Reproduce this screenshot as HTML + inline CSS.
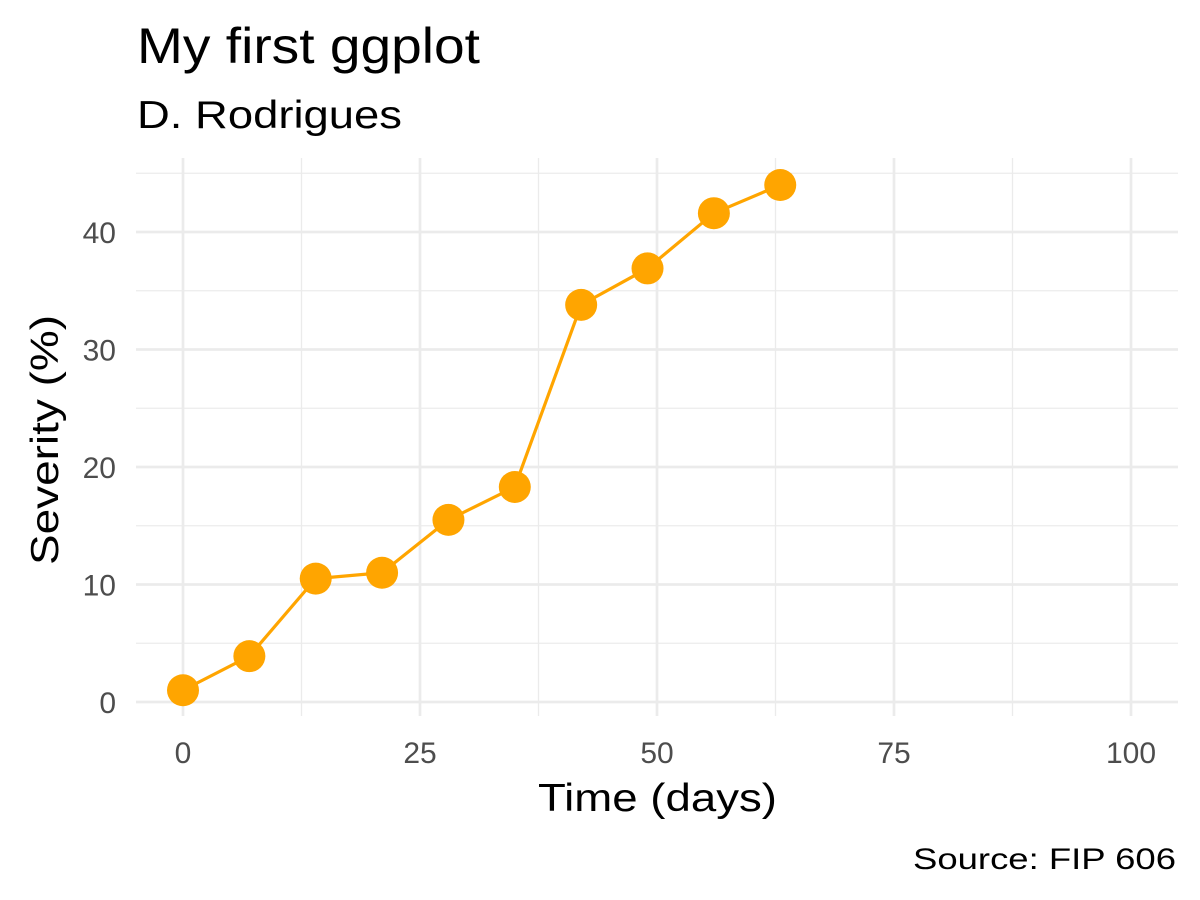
<!DOCTYPE html>
<html><head><meta charset="utf-8"><style>
html,body{margin:0;padding:0;background:#fff;}
svg{display:block;font-family:"Liberation Sans",Arial,sans-serif;}
</style></head><body>
<svg id="chart" width="1200" height="900" viewBox="0 0 1200 900">
<text x="137" y="63" font-size="50" textLength="343" lengthAdjust="spacingAndGlyphs" fill="#000">My first ggplot</text>
<text x="137" y="128" font-size="39" textLength="265" lengthAdjust="spacingAndGlyphs" fill="#000">D. Rodrigues</text>
<g id="grid"></g>
<g id="series"></g>
<g id="axes"></g>
<text x="538" y="811" font-size="39" textLength="239" lengthAdjust="spacingAndGlyphs" fill="#000">Time (days)</text>
<text transform="translate(58,565) rotate(-90)" font-size="39" textLength="250" lengthAdjust="spacingAndGlyphs" fill="#000">Severity (%)</text>
<text x="913" y="869" font-size="30" textLength="263" lengthAdjust="spacingAndGlyphs" fill="#000">Source: FIP 606</text>
</svg>
<script>
const days = [0,7,14,21,28,35,42,49,56,63];
const severity = [1.0,3.9,10.5,11.0,15.5,18.3,33.8,36.9,41.6,44.0];
const xTicks = [0,25,50,75,100];
const yTicks = [0,10,20,30,40];
const xMinor = [12.5,37.5,62.5,87.5];
const yMinor = [5,15,25,35,45];

const NS="http://www.w3.org/2000/svg";
const panel={left:136,right:1178,top:158,bottom:716};
function xs(v){return 183+(v-0)*(1131-183)/100;}
function ys(v){return 702-v*(702-232)/40;}
function mk(tag,attrs,parent){const e=document.createElementNS(NS,tag);for(const k in attrs)e.setAttribute(k,attrs[k]);parent.appendChild(e);return e;}
const grid=document.getElementById('grid'),series=document.getElementById('series'),axes=document.getElementById('axes');

xMinor.forEach(v=>{const l=mk('line',{x1:xs(v),x2:xs(v),y1:panel.top,y2:panel.bottom,stroke:'#ebebeb','stroke-width':1.3},grid);

});
yMinor.forEach(v=>{const l=mk('line',{x1:panel.left,x2:panel.right,y1:ys(v),y2:ys(v),stroke:'#ebebeb','stroke-width':1.3},grid);

});
xTicks.forEach(v=>{const l=mk('line',{x1:xs(v),x2:xs(v),y1:panel.top,y2:panel.bottom,stroke:'#ebebeb','stroke-width':2.7},grid);


const t=mk('text',{x:xs(v),y:763,'font-size':30,'text-anchor':'middle',fill:'#4d4d4d'},axes);t.textContent=v;

});
yTicks.forEach(v=>{const l=mk('line',{x1:panel.left,x2:panel.right,y1:ys(v),y2:ys(v),stroke:'#ebebeb','stroke-width':2.7},grid);


const t=mk('text',{x:116,y:ys(v)+11,'font-size':30,'text-anchor':'end',fill:'#4d4d4d'},axes);t.textContent=v;

});

const pts=days.map((d,i)=>xs(d)+','+ys(severity[i])).join(' ');
const pl=mk('polyline',{points:pts,fill:'none',stroke:'#FFA500','stroke-width':3.2,'stroke-linejoin':'round'},series);


days.forEach((d,i)=>{const c=mk('circle',{cx:xs(d),cy:ys(severity[i]),r:16,fill:'#FFA500'},series);

});
</script>
</body></html>
